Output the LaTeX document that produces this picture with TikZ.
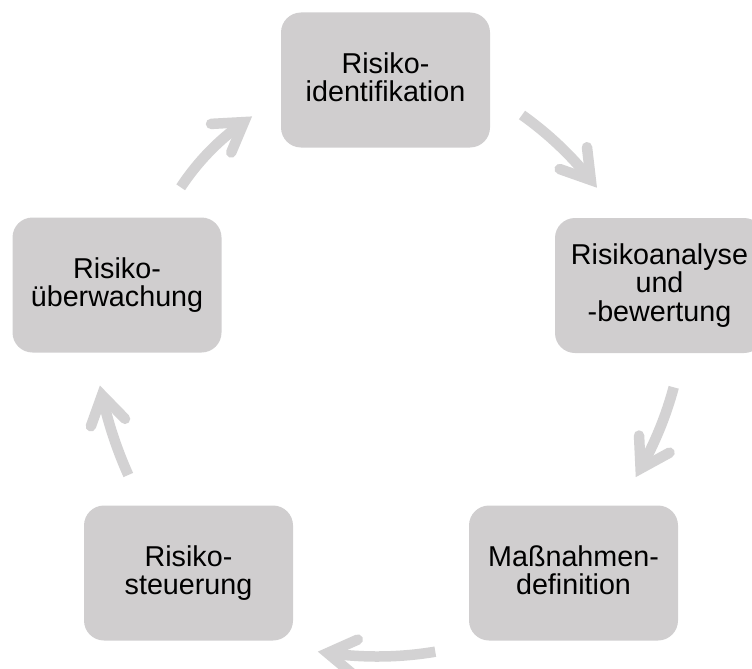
\documentclass[tikz,border=0pt]{standalone}
\usepackage{fontspec}
\setmainfont{Liberation Sans}
\usetikzlibrary{calc}
\definecolor{boxgray}{HTML}{D0CECF}
\definecolor{arrowgray}{HTML}{D3D2D3}
% curved cycle arrow: start, bend point (tangent intersection), head vertex
\newcommand\cyclearrow[3]{%
  \draw[shaft] (#1) .. controls ($(#1)!0.6667!(#2)$) and ($(#3)!0.6667!(#2)$) .. (#3);
  \draw[headstroke] ($(#3)!33pt!32:(#2)$) -- (#3) -- ($(#3)!33pt!-32:(#2)$);
}
\begin{document}
\begin{tikzpicture}[x=1pt,y=1pt,
  stage/.style={fill=boxgray, rounded corners=20pt, minimum width=209pt,
    minimum height=135pt, inner sep=0pt, align=center, text=black,
    font=\fontsize{28.7}{28.4}\selectfont,
    execute at begin node={\rule{0pt}{22.3pt}},
    execute at end node={\rule[-6pt]{0pt}{6pt}}},
  shaft/.style={draw=arrowgray, line width=10.5pt, line cap=butt},
  headstroke/.style={draw=arrowgray, line width=10.5pt, line cap=round, line join=miter}]
\useasboundingbox (0,0) rectangle (752,-669);

% process stages
\node[stage] (ident)   at (385.5,-80)   {Risiko-\\identifikation};
\node[stage] (analyse) at (659.5,-285.5) {Risikoanalyse\\und\\-bewertung};
\node[stage] (massn)   at (573.5,-573)  {Maßnahmen-\\definition};
\node[stage] (steuer)  at (188.5,-573)  {Risiko-\\steuerung};
\node[stage] (ueberw)  at (117,-285)    {Risiko-\\überwachung};

% arrow geometry
\coordinate (s1) at (522,-115);     \coordinate (q1) at (561.0,-142.7); \coordinate (v1) at (590.8,-180.0);
\coordinate (s2) at (673.7,-387.3); \coordinate (q2) at (662.2,-430.0); \coordinate (v2) at (640.6,-468.5);
\coordinate (s3) at (435.3,-651.7); \coordinate (q3) at (381.6,-660.6); \coordinate (v3) at (327.6,-653.0);
\coordinate (s4) at (128.3,-475);   \coordinate (q4) at (111.0,-436.5); \coordinate (v4) at (102.0,-395.2);
\coordinate (s5) at (180.7,-187.3); \coordinate (q5) at (206.2,-148.7); \coordinate (v5) at (244.0,-122.1);

\cyclearrow{s1}{q1}{v1}
\cyclearrow{s2}{q2}{v2}
\cyclearrow{s3}{q3}{v3}
\cyclearrow{s4}{q4}{v4}
\cyclearrow{s5}{q5}{v5}
\end{tikzpicture}
\end{document}
